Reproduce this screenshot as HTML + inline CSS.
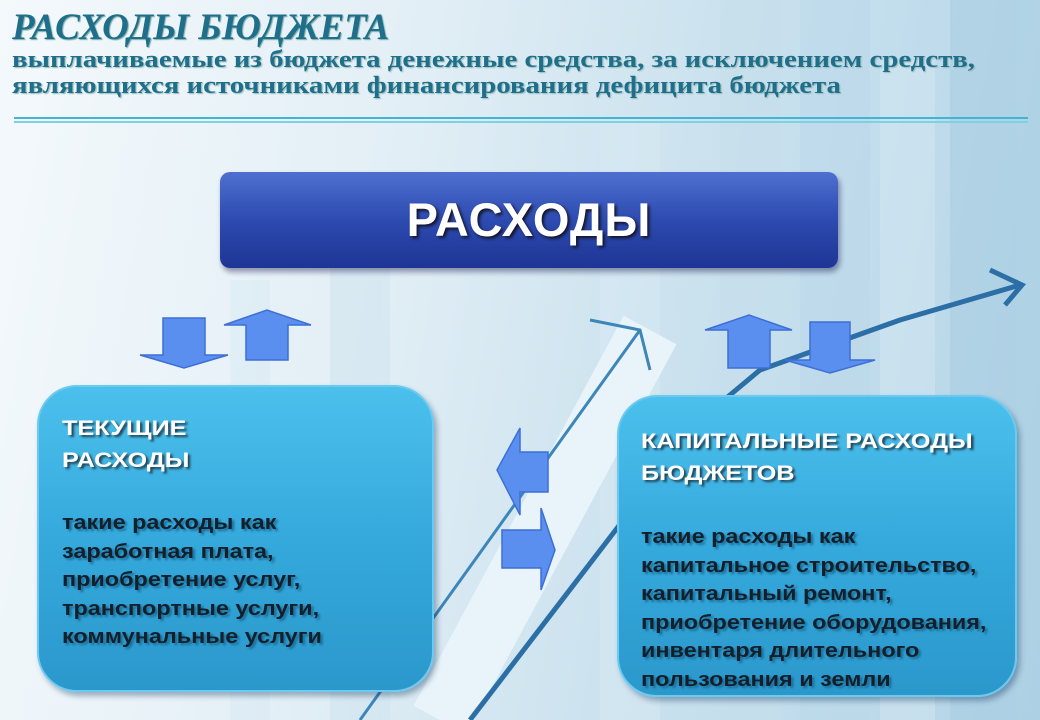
<!DOCTYPE html>
<html><head><meta charset="utf-8"><style>
*{margin:0;padding:0}
body{width:1040px;height:720px;overflow:hidden;position:relative;font-family:"Liberation Sans","DejaVu Sans",sans-serif;
background:linear-gradient(100deg,#f4f9fc 0%,#e3eff6 35%,#cde3ef 60%,#c0dcec 80%,#b3d3e6 100%);}
.abs{position:absolute}
.t1{left:12px;top:6px;font:italic bold 37px "Liberation Serif",serif;color:#1f6f8a;text-shadow:1px 1px 1px #7aa;transform-origin:0 0;transform:scaleX(1.0);white-space:nowrap}
.t2{left:12px;top:47px;font:bold 24px/26px "Liberation Serif",serif;color:#1f6f8a;transform-origin:0 0;transform:scaleX(1.2);white-space:nowrap;text-shadow:1px 1px 1px #9bb}
.box{border-radius:40px;background:linear-gradient(180deg,#4cc0ec 0%,#35a9dc 50%,#2b98cc 100%);border:2px solid #6ccaf0;box-shadow:3px 4px 6px rgba(0,40,80,.35)}
.hd{color:#fff;font-weight:bold;font-size:21px;line-height:32px;text-shadow:2px 2px 2px #245;transform-origin:0 0;transform:scaleX(1.2);white-space:nowrap}
.bd{color:#13202c;font-weight:bold;font-size:20px;line-height:28.6px;text-shadow:2px 2px 2px #1a6f99;white-space:nowrap;transform-origin:0 0;transform:scaleX(1.17)}
</style></head><body>
<svg class="abs" style="left:0;top:0" width="1040" height="720">
 <g opacity="0.5">
  <rect x="720" y="0" width="60" height="720" fill="#c7dfec"/>
  <rect x="800" y="0" width="70" height="720" fill="#bcd9ea"/>
  <rect x="880" y="60" width="55" height="660" fill="#d5e8f2"/>
  <rect x="950" y="0" width="90" height="720" fill="#a8cde2"/>
  <rect x="600" y="120" width="60" height="600" fill="#d8eaf3"/>
  <rect x="330" y="260" width="60" height="460" fill="#cfe4ef"/>
  <rect x="230" y="280" width="40" height="440" fill="#d8eaf3"/>
 </g>
 <path d="M440 720 L650 330" stroke="#e9f4fa" stroke-width="60" fill="none"/>
 <path d="M360 720 L640 330 M590 320 L640 330 L650 370" stroke="#3d86b8" stroke-width="3" fill="none"/>
 <path d="M470 720 L700 420 L760 370 L900 320 L1020 285 M990 270 L1022 285 L1005 305" stroke="#2b6fa6" stroke-width="5" fill="none"/>
 <line x1="14" y1="118" x2="1028" y2="118" stroke="#3fb7d3" stroke-width="2"/>
 <line x1="14" y1="122" x2="1028" y2="122" stroke="#7fd0e3" stroke-width="2"/>
 <g fill="#5a8ff0" stroke="#3d6fd6" stroke-width="1.5">
  <polygon points="163,318 205,318 205,355 228,355 184,368 140,355 163,355"/>
  <polygon points="246,360 288,360 288,325 311,325 267,310 224,325 246,325"/>
  <polygon points="728,368 770,368 770,330 792,330 749,315 705,330 728,330"/>
  <polygon points="810,322 850,322 850,360 875,360 830,373 785,360 810,360"/>
  <polygon points="548,452 548,492 520,492 520,515 497,470 520,428 520,452"/>
  <polygon points="502,530 541,530 541,508 555,550 541,590 541,568 502,568"/>
 </g>
</svg>
<div class="abs t1">РАСХОДЫ БЮДЖЕТА</div>
<div class="abs t2">выплачиваемые из бюджета денежные средства, за исключением средств,<br>являющихся источниками финансирования дефицита бюджета</div>
<div class="abs" style="left:220px;top:172px;width:618px;height:96px;border-radius:10px;background:linear-gradient(180deg,#4f6fd0 0%,#2d4bb0 50%,#1e3595 100%);box-shadow:2px 4px 6px rgba(0,0,60,.4);color:#fff;font-weight:bold;font-size:47px;letter-spacing:1px;text-align:center;line-height:96px;text-shadow:2px 2px 3px #112">РАСХОДЫ</div>
<div class="abs box" style="left:37px;top:385px;width:393px;height:303px"></div>
<div class="abs hd" style="left:62px;top:413px">ТЕКУЩИЕ<br>РАСХОДЫ</div>
<div class="abs bd" style="left:62px;top:509px">такие расходы как<br>заработная плата,<br>приобретение услуг,<br>транспортные услуги,<br>коммунальные услуги</div>
<div class="abs box" style="left:617px;top:395px;width:396px;height:298px"></div>
<div class="abs hd" style="left:641px;top:426px">КАПИТАЛЬНЫЕ РАСХОДЫ<br>БЮДЖЕТОВ</div>
<div class="abs bd" style="left:641px;top:523px">такие расходы как<br>капитальное строительство,<br>капитальный ремонт,<br>приобретение оборудования,<br>инвентаря длительного<br>пользования и земли</div>
</body></html>
